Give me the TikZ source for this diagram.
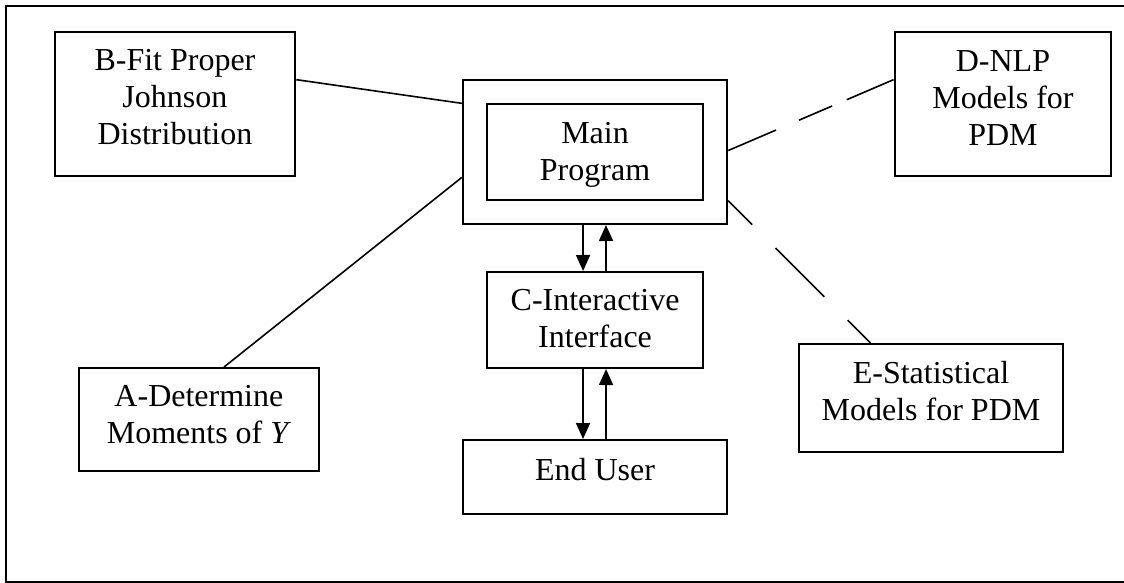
\documentclass[tikz,border=0pt]{standalone}
\usepackage{fontspec}
\setmainfont{Liberation Serif}
\usetikzlibrary{arrows.meta,calc}
\begin{document}
\begin{tikzpicture}[x=1pt,y=-1pt,
  box/.style={draw, line width=2pt, inner sep=0pt, anchor=north west},
  txt/.style={align=center, font=\fontsize{32}{37}\selectfont, inner sep=0pt},
  conn/.style={line width=1.6pt},
  arr/.style={line width=1.7pt, -{Triangle[width=14pt,length=16pt]}}]
\useasboundingbox (0,0) rectangle (1124,583);
\draw[line width=2pt] (1130,6.3) -- (5.5,6.3) -- (5.5,581.7) -- (1130,581.7);
% boxes
\node[box, minimum width=240.7pt, minimum height=144pt] (B) at (53.6,31) {};
\node[box, minimum width=264.4pt, minimum height=144pt] (mainout) at (461.8,79) {};
\node[box, minimum width=216.7pt, minimum height=96pt] (mainin) at (485.7,103) {};
\node[box, minimum width=216.9pt, minimum height=144pt] (D) at (893.5,31) {};
\node[box, minimum width=216.7pt, minimum height=96pt] (C) at (485.7,271) {};
\node[box, minimum width=264.4pt, minimum height=74pt] (U) at (461.8,439) {};
\node[box, minimum width=240pt, minimum height=103pt] (A) at (77.9,367) {};
\node[box, minimum width=264.4pt, minimum height=108pt] (E) at (797.8,343) {};
% texts
\node[txt] (Bt) at ($(B.center)+(0,-6.5)$) {B-Fit Proper\\Johnson\\Distribution};
\node[txt] (Mt) at ($(mainin.center)+(0,2.4)$) {Main\\Program};
\node[txt] (Dt) at ($(D.center)+(0,-6.1)$) {D-NLP\\Models for\\PDM};
\node[txt] (Ct) at ($(C.center)+(0,-1)$) {C-Interactive\\Interface};
\node[txt] (Ut) at ($(U.center)+(0,-7)$) {End User};
\node[txt] (At) at ($(A.center)+(0,-4.5)$) {A-Determine\\Moments of \textit{Y}};
\node[txt] (Et) at ($(E.center)+(0,-7)$) {E-Statistical\\Models for PDM};
% connectors
\draw[conn] ($(B.north east)!1/3!(B.south east)$) -- ($(mainout.north west)!1/6!(mainout.south west)$);
\draw[conn] ($(A.north west)!0.604!(A.north east)$) -- ($(mainout.north west)!0.674!(mainout.south west)$);
\draw[conn, dash pattern=on 52pt off 25pt on 36pt off 16pt on 80pt off 0pt] ($(mainout.north east)!0.49!(mainout.south east)$) -- ($(D.north west)!1/3!(D.south west)$);
\draw[conn, dash pattern=on 34pt off 33pt on 69pt off 33pt on 80pt off 0pt] ($(mainout.north east)!0.833!(mainout.south east)$) -- ($(E.north west)!0.273!(E.north east)$);
% arrows
\draw[arr] ([xshift=-12pt]mainout.south) -- ([xshift=-12pt]C.north);
\draw[arr] ([xshift=11pt]C.north) -- ([xshift=11pt]mainout.south);
\draw[arr] ([xshift=-12pt]C.south) -- ([xshift=-12pt]U.north);
\draw[arr] ([xshift=11pt]U.north) -- ([xshift=11pt]C.south);
\end{tikzpicture}
\end{document}
